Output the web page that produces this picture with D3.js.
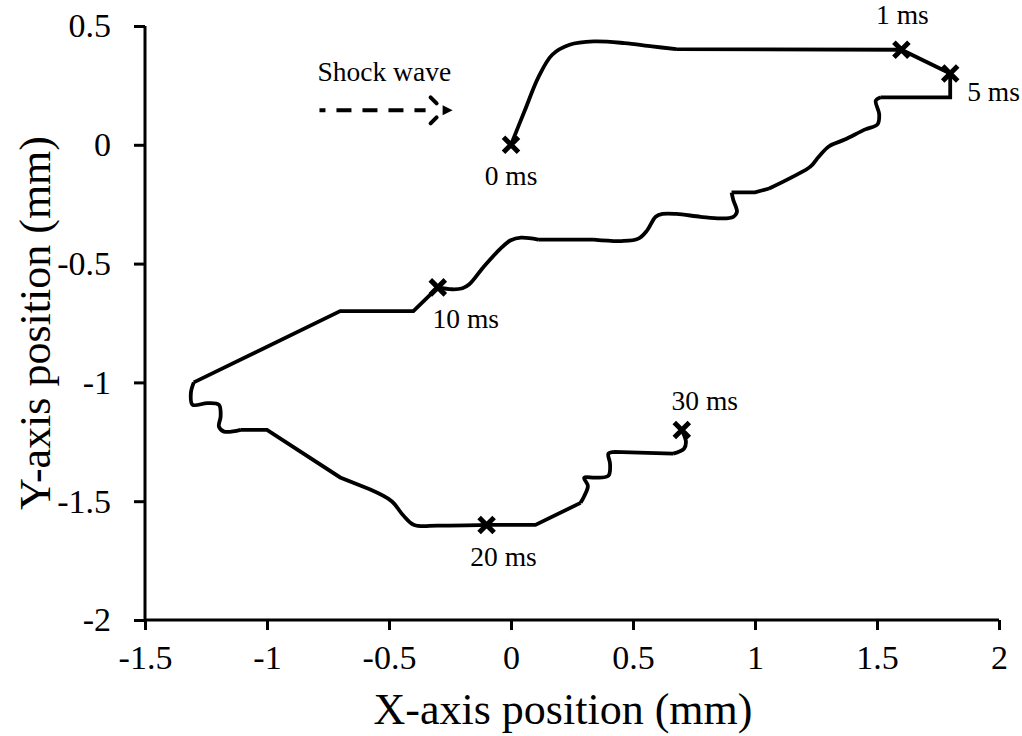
<!DOCTYPE html>
<html>
<head>
<meta charset="utf-8">
<script src="https://cdn.jsdelivr.net/npm/d3@7"></script>
<style>
  html, body { margin: 0; padding: 0; background: #fff; }
  svg { display: block; }
  text { font-family: "Liberation Serif", "Times New Roman", serif; fill: #000; }
</style>
</head>
<body>
<svg id="chart" width="1022" height="736"></svg>
<script>
// ---- data (mm) ----
const pathX = [0, 0.056, 0.113, 0.169, 0.24, 0.339, 0.465, 0.578, 0.677, 1.6, 1.8, 1.8, 1.516, 1.495, 1.509, 1.502, 1.452, 1.368, 1.304, 1.262, 1.227, 1.156, 1.058, 1.0, 0.904, 0.911, 0.926, 0.911, 0.862, 0.777, 0.678, 0.621, 0.593, 0.558, 0.522, 0.452, 0.339, 0.112, 0.041, -0.001, -0.044, -0.114, -0.171, -0.199, -0.242, -0.3, -0.4, -0.7, -1.3, -1.312, -1.305, -1.244, -1.197, -1.19, -1.197, -1.176, -1.108, -1.0, -0.7, -0.579, -0.489, -0.443, -0.397, -0.3, -0.1, 0.1, 0.285, 0.3, 0.315, 0.3, 0.345, 0.399, 0.406, 0.399, 0.421, 0.664, 0.709, 0.717, 0.7];
const pathY = [0, 0.143, 0.286, 0.379, 0.421, 0.435, 0.428, 0.414, 0.403, 0.4, 0.3, 0.2, 0.2, 0.186, 0.129, 0.086, 0.065, 0.022, -0.006, -0.049, -0.092, -0.134, -0.184, -0.2, -0.2, -0.232, -0.282, -0.303, -0.31, -0.303, -0.291, -0.291, -0.303, -0.36, -0.395, -0.405, -0.399, -0.399, -0.391, -0.402, -0.438, -0.516, -0.587, -0.604, -0.608, -0.6, -0.7, -0.7, -1.0, -1.045, -1.094, -1.087, -1.094, -1.143, -1.186, -1.207, -1.2, -1.2, -1.4, -1.45, -1.5, -1.558, -1.6, -1.603, -1.6, -1.6, -1.507, -1.479, -1.436, -1.401, -1.401, -1.393, -1.343, -1.3, -1.292, -1.3, -1.279, -1.25, -1.2];
// indices i where the segment from point i to point i+1 is a straight run
const straightSegments = [8, 9, 10, 11, 22, 23, 36, 45, 46, 47, 56, 57, 58, 64, 65, 74];

const markerLabels = ["0 ms", "1 ms", "5 ms", "10 ms", "20 ms", "30 ms"];
const markerX = [0, 1.6, 1.8, -0.3, -0.1, 0.7];
const markerY = [0, 0.4, 0.3, -0.6, -1.6, -1.2];

const xTicks = [-1.5, -1, -0.5, 0, 0.5, 1, 1.5, 2];
const yTicks = [0.5, 0, -0.5, -1, -1.5, -2];
const xTitle = "X-axis position (mm)";
const yTitle = "Y-axis position (mm)";

const arrowText = "Shock wave";
const arrowX = [-0.785, -0.35];
const arrowY = [0.145, 0.145];

// ---- layout ----
const svg = d3.select("#chart");
const x = d3.scaleLinear().domain([-1.5, 2]).range([145, 999]);
const y = d3.scaleLinear().domain([-2, 0.5]).range([620, 26]);
const font = '"Liberation Serif", "Times New Roman", serif';

// axes
const xAxis = d3.axisBottom(x).tickValues(xTicks).tickSize(10).tickPadding(8)
  .tickFormat(d => String(d));
const gx = svg.append("g").attr("transform", `translate(0,${y(-2)})`).call(xAxis);
gx.select(".domain").attr("stroke", "#000").attr("stroke-width", 3)
  .attr("d", `M${x(-1.5)},0H${x(2)}`);
gx.selectAll(".tick line").attr("stroke", "#000").attr("stroke-width", 3);
gx.selectAll(".tick text").attr("font-family", font).attr("font-size", 34).attr("fill", "#000")
  .attr("dy", "0.9em");

const yAxis = d3.axisLeft(y).tickValues(yTicks).tickSize(11).tickPadding(23)
  .tickFormat(d => String(d));
const gy = svg.append("g").attr("transform", `translate(${x(-1.5)},0)`).call(yAxis);
gy.select(".domain").attr("stroke", "#000").attr("stroke-width", 3)
  .attr("d", `M0,${y(0.5)}V${y(-2)}`);
gy.selectAll(".tick line").attr("stroke", "#000").attr("stroke-width", 3);
gy.selectAll(".tick text").attr("font-family", font).attr("font-size", 34).attr("fill", "#000");

// axis titles
svg.append("text").attr("x", 563).attr("y", 724).attr("text-anchor", "middle")
  .attr("font-size", 44).text(xTitle);
svg.append("text").attr("transform", `translate(50,${(y(0.5) + y(-2)) / 2}) rotate(-90)`)
  .attr("text-anchor", "middle").attr("font-size", 44).text(yTitle);

// trajectory: split into straight runs (linear) and curved runs (Catmull-Rom)
const pts = pathX.map((d, i) => [d, pathY[i]]);
const straightSet = new Set(straightSegments);
const runs = [];
let cur = { straight: straightSet.has(0), pts: [pts[0]] };
for (let i = 0; i < pts.length - 1; i++) {
  const s = straightSet.has(i);
  if (s !== cur.straight) {
    runs.push(cur);
    cur = { straight: s, pts: [pts[i]] };
  }
  cur.pts.push(pts[i + 1]);
}
runs.push(cur);
const curvedLine = d3.line().x(d => x(d[0])).y(d => y(d[1])).curve(d3.curveCatmullRom.alpha(0.5));
const straightLine = d3.line().x(d => x(d[0])).y(d => y(d[1])).curve(d3.curveLinear);
const pathD = runs.map(r => (r.straight ? straightLine : curvedLine)(r.pts)).join("");
svg.append("path").attr("d", pathD)
  .attr("fill", "none").attr("stroke", "#000").attr("stroke-width", 3.8)
  .attr("stroke-linejoin", "miter").attr("stroke-linecap", "butt");

// markers
const ms = 7.5;
const mk = svg.append("g");
markerX.forEach((mx, i) => {
  const cx = x(mx), cy = y(markerY[i]);
  mk.append("path")
    .attr("d", `M${cx - ms},${cy - ms}L${cx + ms},${cy + ms}M${cx - ms},${cy + ms}L${cx + ms},${cy - ms}`)
    .attr("stroke", "#000").attr("stroke-width", 5).attr("stroke-linecap", "butt");
});

// marker labels (pixel offsets relative to marker)
const lblOff = [[0, 40, "middle"], [1, -26, "middle"], [17, 27, "start"], [28, 41, "middle"], [17, 41, "middle"], [23, -20, "middle"]];
markerLabels.forEach((t, i) => {
  svg.append("text").attr("x", x(markerX[i]) + lblOff[i][0]).attr("y", y(markerY[i]) + lblOff[i][1])
    .attr("text-anchor", lblOff[i][2]).attr("font-size", 27.5).text(t);
});

// shock wave arrow
const ax0 = x(arrowX[0]), ax1 = x(arrowX[1]), ay = y(arrowY[0]);
svg.append("text").attr("x", ax0 - 2).attr("y", ay - 29).attr("font-size", 27.5).text(arrowText);
svg.append("line").attr("x1", ax0).attr("x2", ax1).attr("y1", ay).attr("y2", ay)
  .attr("stroke", "#000").attr("stroke-width", 4).attr("stroke-dasharray", "15,11").attr("stroke-dashoffset", 9);
const ag = svg.append("g").attr("stroke", "#000").attr("stroke-width", 4).attr("stroke-linecap", "round");
ag.append("line").attr("x1", ax1 + 5).attr("y1", ay - 13).attr("x2", ax1 + 11).attr("y2", ay - 7);
ag.append("line").attr("x1", ax1 + 11).attr("y1", ay + 7).attr("x2", ax1 + 5).attr("y2", ay + 13);
svg.append("path").attr("d", `M${ax1 + 17},${ay - 5}L${ax1 + 27},${ay}L${ax1 + 17},${ay + 5}Z`).attr("fill", "#000");
</script>
</body>
</html>
